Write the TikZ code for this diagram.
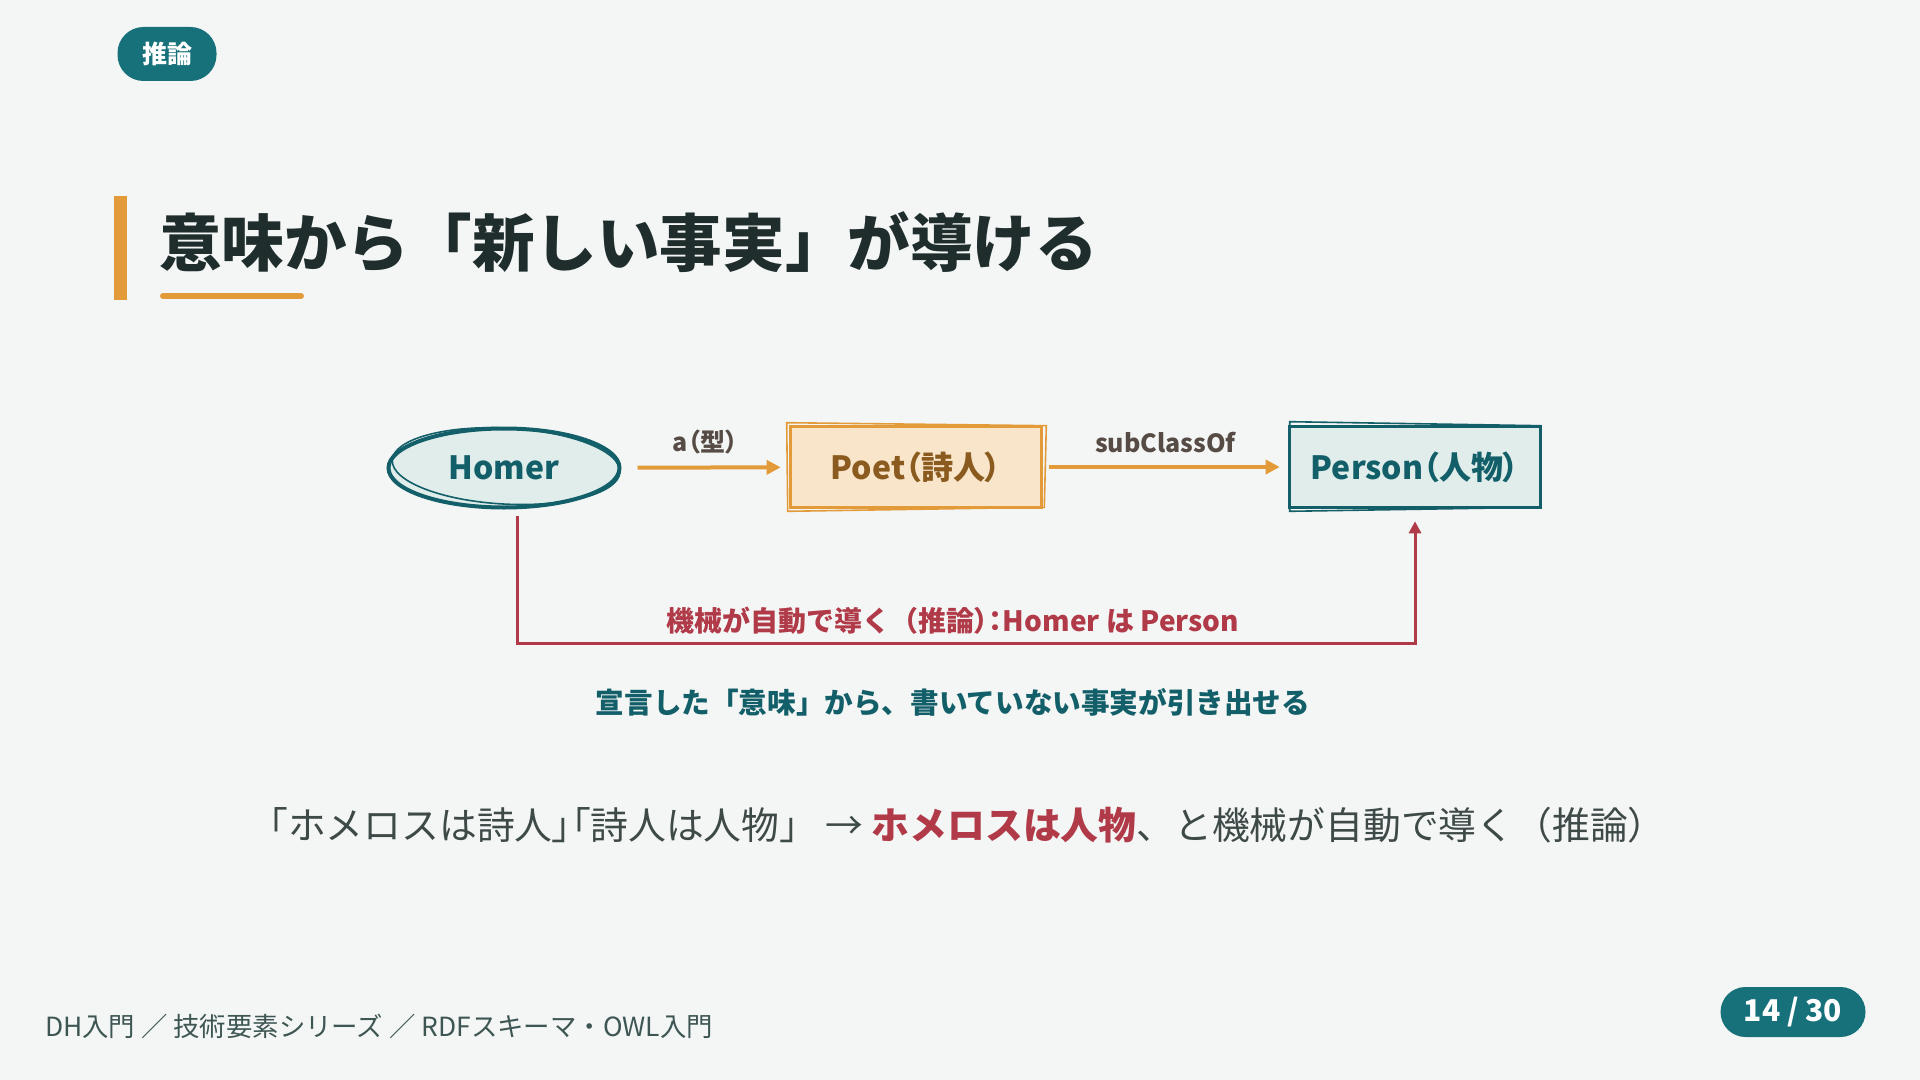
\documentclass[tikz,border=0pt]{standalone}
\usepackage{fontspec}
\setmainfont{Noto Sans CJK JP}
\newfontfamily\lbl{Noto Sans CJK JP}[RawFeature=+palt]
\usetikzlibrary{shapes.geometric,arrows.meta,positioning}

\definecolor{bgpale}{HTML}{F4F6F5}
\definecolor{tealbadge}{HTML}{16717B}
\definecolor{tealdark}{HTML}{135F69}
\definecolor{tealpale}{HTML}{E0EDEA}
\definecolor{inkdark}{HTML}{1F2E2D}
\definecolor{accent}{HTML}{E39B3A}
\definecolor{poetfill}{HTML}{F8E5CA}
\definecolor{poetink}{HTML}{8B5A1E}
\definecolor{labelgrey}{HTML}{574C45}
\definecolor{infred}{HTML}{B03A48}
\definecolor{textgrey}{HTML}{3E4A48}
\definecolor{footgrey}{HTML}{3D5654}

\begin{document}
\begin{tikzpicture}[x=0.5pt,y=-0.5pt,
  pill/.style={rectangle,rounded corners=13pt,fill=tealbadge,text=white,inner sep=0pt},
  lit/.style={ellipse,draw=tealdark,fill=tealpale,line width=2pt,minimum width=115.5pt,minimum height=39.5pt,inner sep=0pt,text=tealdark,font=\lbl\bfseries\fontsize{16}{19}\selectfont},
  cls/.style={rectangle,line width=1.8pt,minimum width=125.5pt,minimum height=40.5pt,inner sep=0pt,font=\lbl\bfseries\fontsize{16}{19}\selectfont},
  rel/.style={-{Triangle[length=7pt,width=7pt]},draw=accent,line width=2pt},
  rellabel/.style={text=labelgrey,font=\lbl\bfseries\fontsize{12.5}{14}\selectfont},
  infer/.style={-{Triangle[length=6pt,width=6pt]},draw=infred,line width=1.5pt},
  sketch/.style={line width=0.8pt}]
\fill[bgpale] (0,0) rectangle (1920,1080);
\useasboundingbox (0,0) rectangle (1920,1080);

% header
\node[pill,minimum width=49.5pt,minimum height=27pt,font=\bfseries\fontsize{12.5}{15}\selectfont] (badge) at (167,54) {推論};
\fill[accent] (114,196) rectangle (127,300);
\node[anchor=west,text=inkdark,font=\bfseries\fontsize{31.3}{36}\selectfont] (title) at (152,242) {意味から「新しい事実」が導ける};
\draw[accent,line width=3pt,line cap=round] (163,296) -- (301,296);

% graph
\node[lit] (homer) at (504,468) {Homer};
\node[cls,draw=accent,fill=poetfill,text=poetink] (poet) at (916,467) {Poet（詩人）};
\node[cls,draw=tealdark,fill=tealpale,text=tealdark] (person) at (1415,467) {Person（人物）};
\draw[sketch,tealdark,shift={(homer.center)},rotate=-3] (2,-2) ellipse [x radius=57pt,y radius=19pt];
\draw[sketch,accent] ([shift={(-1pt,1pt)}]poet.north west) -- ([shift={(1.5pt,-0.5pt)}]poet.north east) -- ([shift={(0.5pt,1pt)}]poet.south east) -- ([shift={(-0.5pt,-1pt)}]poet.south west) -- cycle;
\draw[sketch,tealdark] ([shift={(1pt,1.5pt)}]person.north west) -- ([shift={(-1pt,-0.5pt)}]person.north east) -- ([shift={(-1pt,1pt)}]person.south east) -- ([shift={(1pt,-1pt)}]person.south west) -- cycle;

\draw[rel,shorten <=8pt,shorten >=4pt] (homer) -- node[rellabel,above=2.5pt] {a（型）} (poet);
\draw[rel,shorten <=3pt,shorten >=4pt] (poet) -- node[rellabel,above=2.5pt] {subClassOf} (person);

\coordinate (low) at (953,643);
\draw[infer,shorten <=3pt,shorten >=6pt] ([xshift=6.5pt]homer.south) |- (low) -| (person.south);
\node[text=infred,font=\bfseries\fontsize{14}{16}\selectfont] (inferlabel) at (953,621) {機械が自動で導く（推論{\lbl ）：}Homer は Person};

\node[text=tealdark,font=\bfseries\fontsize{14.3}{17}\selectfont] (gist) at (953,702) {宣言した「意味」から、書いていない事実が引き出せる};

\node[text=textgrey,font=\fontsize{18.9}{22}\selectfont] (summary) at (958,825) {「ホメロスは詩人{\lbl 」「}詩人は人物」 → \textcolor{infred}{\bfseries ホメロスは人物}、と機械が自動で導く（推論）};

% footer
\node[anchor=west,text=footgrey,font=\fontsize{13.2}{16}\selectfont] (foot) at (38,1026) {DH入門 ／ 技術要素シリーズ ／ RDFスキーマ・OWL入門};
\node[pill,minimum width=72.5pt,minimum height=25pt,rounded corners=12.5pt,font=\bfseries\fontsize{15}{18}\selectfont] (page) at (1793,1012) {14 / 30};
\end{tikzpicture}
\end{document}
